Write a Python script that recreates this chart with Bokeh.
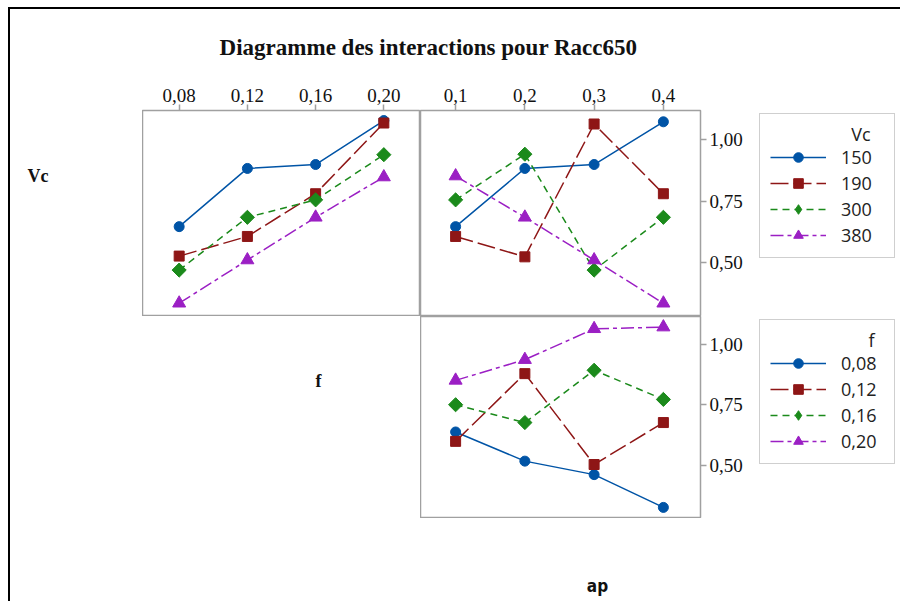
from bokeh.plotting import figure
from bokeh.models import FixedTicker, Range1d, Legend, LegendItem, Label
from bokeh.layouts import column, row
from bokeh.embed import file_html
from bokeh.resources import INLINE

# ---------------- data ----------------
f_levels = [0.08, 0.12, 0.16, 0.20]
f_labels = ["0,08", "0,12", "0,16", "0,20"]
ap_levels = [0.1, 0.2, 0.3, 0.4]
ap_labels = ["0,1", "0,2", "0,3", "0,4"]
vc_labels = ["150", "190", "300", "380"]
y_ticks = [0.50, 0.75, 1.00]
y_labels = ["0,50", "0,75", "1,00"]

# mean Racc650 : Vc lines across f levels
vc150_f = [0.647, 0.884, 0.900, 1.079]
vc190_f = [0.527, 0.607, 0.781, 1.069]
vc300_f = [0.470, 0.685, 0.756, 0.940]
vc380_f = [0.335, 0.511, 0.685, 0.849]

# mean Racc650 : Vc lines across ap levels
vc150_ap = [0.647, 0.884, 0.900, 1.074]
vc190_ap = [0.607, 0.524, 1.065, 0.781]
vc300_ap = [0.756, 0.942, 0.470, 0.685]
vc380_ap = [0.853, 0.685, 0.511, 0.335]

# mean Racc650 : f lines across ap levels
f008_ap = [0.638, 0.517, 0.461, 0.325]
f012_ap = [0.599, 0.880, 0.503, 0.677]
f016_ap = [0.751, 0.677, 0.894, 0.773]
f020_ap = [0.852, 0.938, 1.066, 1.073]

# ---------------- styles ----------------
colors = ["#0054A6", "#8E1616", "#1B8A1B", "#9B1FC4"]
dashes = ["solid", "18 5", "7 5", "13 4 4 4"]
markers = ["circle", "square", "square", "triangle"]
legend_markers = ["circle", "square", "diamond", "triangle"]
angles = [0.0, 0.0, 0.785398, 0.0]
msizes = [10, 10, 10, 13]
GRAY = "#A0A0A0"
SERIF = "Liberation Serif"
SANS = "Open Sans"


def no_align(p):
    if "frame_align" in p.properties():
        p.frame_align = False


def base_fig(width, height, xr, yr, xloc, yloc, mb):
    p = figure(width=width, height=height, x_range=xr, y_range=yr,
               x_axis_location=xloc, y_axis_location=yloc,
               toolbar_location=None, tools="", title=None,
               output_backend="svg", min_border=0)
    p.min_border_left, p.min_border_right, p.min_border_top, p.min_border_bottom = mb
    p.grid.visible = False
    p.outline_line_color = GRAY
    p.outline_line_width = 1.5
    p.background_fill_color = "white"
    p.border_fill_color = "white"
    no_align(p)
    return p


def text_fig(width, height, xr=(0, 1)):
    p = figure(width=width, height=height, x_range=Range1d(*xr), y_range=Range1d(0, 1),
               toolbar_location=None, tools="", title=None, output_backend="svg",
               min_border=0, x_axis_location=None, y_axis_location=None)
    p.grid.visible = False
    p.outline_line_color = None
    p.border_fill_color = "white"
    no_align(p)
    return p


def style_axis(ax, ticks, labels):
    ax.ticker = FixedTicker(ticks=ticks)
    ax.major_label_overrides = {t: l for t, l in zip(ticks, labels)}
    ax.axis_line_color = None
    ax.major_tick_line_color = GRAY
    ax.major_tick_line_width = 1.5
    ax.major_tick_out = 6
    ax.major_tick_in = 0
    ax.minor_tick_line_color = None
    ax.major_label_text_font = SERIF
    ax.major_label_text_font_size = "19px"
    ax.major_label_text_color = "#111111"
    ax.major_label_standoff = 3


def draw_series(p, xs, series, mk=markers, ang=angles):
    out = []
    for i, ys in enumerate(series):
        l = p.line(xs, ys, line_color=colors[i], line_width=1.5, line_dash=dashes[i])
        s = p.scatter(xs, ys, marker=mk[i], size=msizes[i], angle=ang[i],
                      fill_color=colors[i], line_color=colors[i])
        out.append((l, s))
    return out


def add_text(p, x, y, text, font, size, style="bold", align="center", color="#111111"):
    p.add_layout(Label(x=x, y=y, x_units="canvas", y_units="canvas", text=text,
                       text_align=align, text_baseline="middle",
                       text_font=font, text_font_style=style,
                       text_font_size=size, text_color=color))


def legend_fig(width, height, xs, series, labels, header, loc, header_xy):
    # the key's own copy of the series sits outside this box's visible range
    p = text_fig(width, height, xr=(5, 6))
    rs = draw_series(p, xs, series, mk=legend_markers, ang=[0, 0, 0, 0])
    items = [LegendItem(label=lab, renderers=[l, s]) for lab, (l, s) in zip(labels, rs)]
    add_text(p, header_xy[0], header_xy[1], header, SANS, "18px", style="normal",
             align="right", color="#222222")
    p.add_layout(Legend(items=items, location=loc, orientation="vertical", margin=0,
                        padding=10, spacing=2, glyph_width=56, glyph_height=24,
                        label_standoff=15, label_width=43, label_height=20,
                        label_text_font=SANS, label_text_font_size="18px",
                        label_text_color="#222222",
                        border_line_color=GRAY, border_line_width=1.5,
                        background_fill_alpha=0,
                        title=" ", title_text_font=SANS, title_text_font_size="15px",
                        title_standoff=1))
    return p


yr_top = (0.281, 1.120)
yr_bot = (0.279, 1.117)
xr_f = (0.0585, 0.2215)
xr_ap = (0.0493, 0.4536)

# ---------------- title strip ----------------
pt = text_fig(890, 71)
add_text(pt, 418, 38, "Diagramme des interactions pour Racc650", SERIF, "23px")

# ---------------- row 1 ----------------
pL = text_fig(132, 236)
add_text(pL, 17, 95, "Vc", SERIF, "18px", align="left")

p1 = base_fig(278, 236, Range1d(*xr_f), Range1d(*yr_top), "above", None, (0, 0, 30, 0))
style_axis(p1.xaxis[0], f_levels, f_labels)
draw_series(p1, f_levels, [vc150_f, vc190_f, vc300_f, vc380_f])

p2 = base_fig(325, 236, Range1d(*xr_ap), Range1d(*yr_top), "above", "right", (0, 45, 30, 0))
style_axis(p2.xaxis[0], ap_levels, ap_labels)
style_axis(p2.yaxis[0], y_ticks, y_labels)
draw_series(p2, ap_levels, [vc150_ap, vc190_ap, vc300_ap, vc380_ap])

pV = legend_fig(155, 236, ap_levels, [vc150_ap, vc190_ap, vc300_ap, vc380_ap],
                vc_labels, "Vc", (14, 58), (125, 53))

# ---------------- row 2 ----------------
pF = text_fig(410, 202)
add_text(pF, 308, 64, "f", SERIF, "18px")

p3 = base_fig(325, 202, Range1d(*xr_ap), Range1d(*yr_bot), None, "right", (0, 45, 0, 0))
style_axis(p3.yaxis[0], y_ticks, y_labels)
draw_series(p3, ap_levels, [f008_ap, f012_ap, f016_ap, f020_ap])

pG = legend_fig(155, 202, ap_levels, [f008_ap, f012_ap, f016_ap, f020_ap],
                f_labels, "f", (14, 54), (129, 23))

# ---------------- row 3 ----------------
pA = text_fig(890, 83)
add_text(pA, 587, 67, "ap", "Liberation Sans Narrow, DejaVu Sans Condensed, sans-serif", "17px")

layout = column(pt, row(pL, p1, p2, pV), row(pF, p3, pG), pA,
                styles={"margin-left": "8px", "margin-top": "7px",
                        "border-left": "2px solid black", "border-top": "2px solid black"})

open("out.html", "w").write(file_html(layout, INLINE))
